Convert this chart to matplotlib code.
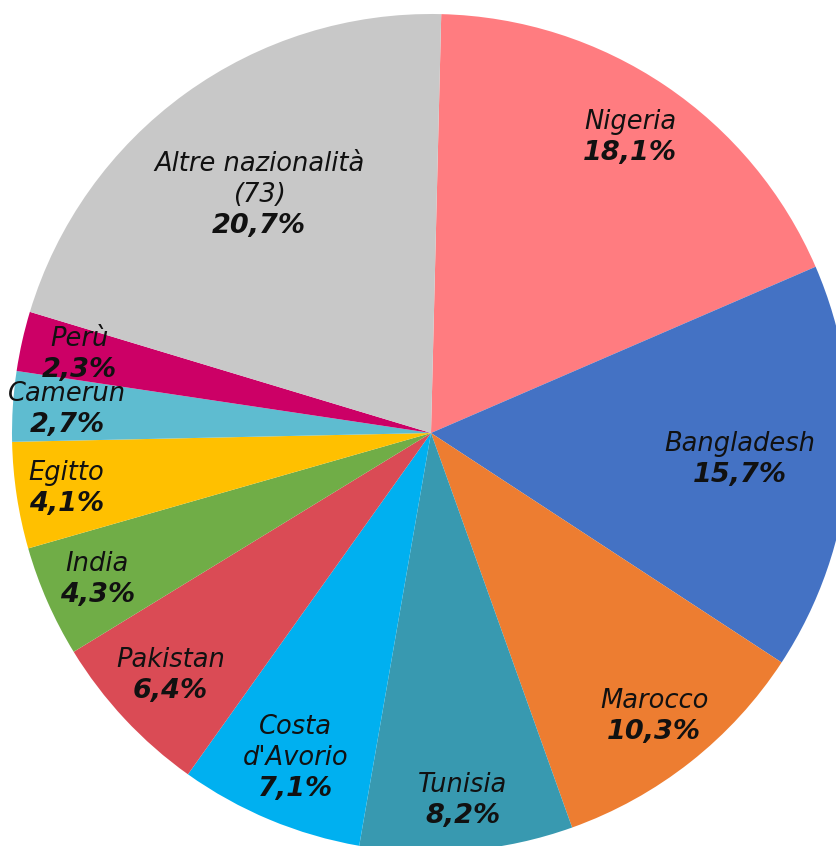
import matplotlib
matplotlib.use("Agg")
import matplotlib.pyplot as plt
import numpy as np

names = ["Nigeria", "Bangladesh", "Marocco", "Tunisia", "Costa\nd'Avorio", "Pakistan",
         "India", "Egitto", "Camerun", "Perù", "Altre nazionalità\n(73)"]
values = [18.1, 15.7, 10.3, 8.2, 7.1, 6.4, 4.3, 4.1, 2.7, 2.3, 20.7]
pct_labels = ["18,1%", "15,7%", "10,3%", "8,2%", "7,1%", "6,4%", "4,3%", "4,1%", "2,7%", "2,3%", "20,7%"]
colors = ["#FF7C80", "#4472C4", "#ED7D31", "#3899B0", "#00B0F0", "#DA4B55",
          "#70AD47", "#FFC000", "#5EBCD0", "#CC0066", "#C8C8C8"]
label_r = [0.85, 0.74, 0.86, 0.88, 0.84, 0.85, 0.87, 0.88, 0.87, 0.86, 0.70]

W, H = 837, 846
cx, cy, R = 431, 433, 419
fig = plt.figure(figsize=(W / 100, H / 100), dpi=100)
ax = fig.add_axes([0, 0, 1, 1])
wedges, _ = ax.pie(values, colors=colors, startangle=88.6, counterclock=False,
                   radius=1, center=(0, 0), wedgeprops=dict(linewidth=0))
ax.set_aspect("auto")
ax.set_xlim(-cx / R, (W - cx) / R)
ax.set_ylim(-(H - cy) / R, cy / R)
ax.axis("off")

fs_name = 18.5
fs_pct = 19.5
tc = "#111111"
px = 0.72  # points per pixel at 100 dpi
line_h = 31
for w, nm, pl, r in zip(wedges, names, pct_labels, label_r):
    ang = np.deg2rad((w.theta1 + w.theta2) / 2)
    x, y = r * np.cos(ang), r * np.sin(ang)
    lines = nm.split("\n")
    total = len(lines) + 1
    top = (total - 1) * line_h / 2
    for i, ln in enumerate(lines):
        ax.annotate(ln, (x, y), xytext=(0, (top - i * line_h) * px),
                    textcoords="offset points", ha="center", va="center",
                    fontsize=fs_name, style="italic", color=tc)
    ax.annotate(pl, (x, y), xytext=(0, -top * px),
                textcoords="offset points", ha="center", va="center",
                fontsize=fs_pct, style="italic", weight="bold", color=tc)

fig.savefig("out.png", dpi=100)
